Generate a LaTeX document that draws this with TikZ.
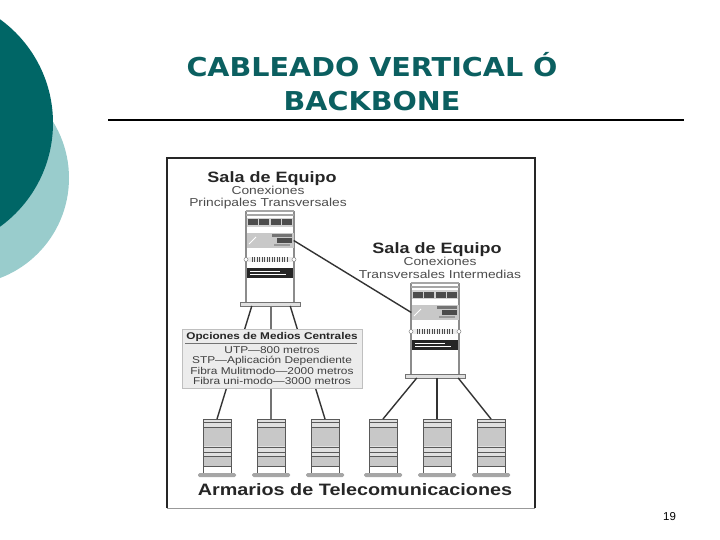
\documentclass[tikz,border=0pt]{standalone}
\usepackage{fontspec}
\setmainfont[FakeStretch=1.2]{Liberation Sans}
\newfontfamily\titlefont[FakeStretch=1.1]{DejaVu Sans}
\newfontfamily\pagefont{Liberation Sans}
\usetikzlibrary{positioning}
\definecolor{tealdark}{HTML}{006666}
\definecolor{teallight}{HTML}{99CCCC}
\definecolor{titleteal}{HTML}{0B5F60}
\definecolor{boxgray}{HTML}{ECECEC}
\definecolor{rackgray}{HTML}{8C8C8C}
\definecolor{shelfgray}{HTML}{C8C8C8}
\tikzstyle{salahead} = [font=\bfseries\fontsize{15}{15}\selectfont, text=black!85, inner sep=0pt]
\tikzstyle{salasub} = [font=\fontsize{11.5}{12}\selectfont, text=black!70, inner sep=0pt, text height=8pt, text depth=2pt, node distance=12.5pt]
\tikzstyle{medio} = [font=\fontsize{9.9}{10}\selectfont, text=black!75, inner sep=0pt, text height=7pt, text depth=2pt, node distance=10.3pt]
\tikzstyle{cable} = [line width=1.4pt, draw=black!80]
\tikzstyle{graycable} = [line width=1.6pt, draw=black!55]
\tikzset{
  eqrack/.pic={
    % posts and base
    \draw[rackgray, line width=2pt] (-24,0) -- (-24,91) (24,0) -- (24,91);
    \draw[black!35, line width=1.2pt] (-24,0) -- (24,0) (-24,4) -- (24,4);
    \node[draw=black!55, fill=black!12, minimum width=60pt, minimum height=3.5pt, inner sep=0pt] (-base) at (0,93) {};
    % patch panel
    \fill[black!18] (-23,7) rectangle (23,16);
    \foreach \i in {-17,-6,6,17}
      \fill[black!70] (\i-4.8,8.5) rectangle (\i+4.8,14.5);
    % switch
    \node[fill=shelfgray, minimum width=47pt, minimum height=15pt, inner sep=0pt] (-switch) at (0,29.5) {};
    \fill[black!55] (2,23) rectangle (22,26);
    \fill[black!70] (7,26.5) rectangle (22,32);
    \fill[black!40] (4,33) rectangle (20,35);
    \draw[white, line width=0.8pt] (-21,33) -- (-14,26);
    % panel
    \fill[black!8] (-22,46) rectangle (22,51);
    \foreach \i in {-18,-15.5,...,18}
      \draw[black!70, line width=0.7pt] (\i,46) -- (\i,50.5);
    \draw[black!50, fill=white, line width=0.5pt] (-24,48.5) circle (2) (24,48.5) circle (2);
    % black unit
    \fill[black!85] (-23,57) rectangle (23,67);
    \draw[white, line width=0.6pt] (-20,60) -- (10,60) (-20,63.5) -- (16,63.5);
  },
  armario/.pic={
    \fill[black!12] (-14,0) rectangle (14,8);
    \fill[shelfgray] (-14,8) rectangle (14,27);
    \fill[black!12] (-14,27) rectangle (14,37);
    \fill[shelfgray] (-14,37) rectangle (14,47);
    \draw[black!65, line width=1pt] (-14,0) -- (-14,55) (14,0) -- (14,55);
    \draw[black!65, line width=0.9pt] (-14,0) -- (14,0) (-14,3) -- (14,3) (-14,8) -- (14,8) (-14,28) -- (14,28) (-14,33) -- (14,33) (-14,37) -- (14,37) (-14,47) -- (14,47);
    \coordinate (-top) at (0,0);
    \fill[black!35, rounded corners=1.5pt] (-19,54) rectangle (19,58);
  }
}
\begin{document}
\begin{tikzpicture}[x=1pt,y=-1pt]
\useasboundingbox (0,0) rectangle (720,540);

% circles on the left
\clip (0,0) rectangle (720,540);
\fill[teallight] (-38,178) circle (107);
\fill[tealdark] (-75,123) circle (128);

% title
\node[font=\titlefont\bfseries\fontsize{26}{34}\selectfont, text=titleteal, align=center, inner sep=0pt] (titulo) at (372,82) {CABLEADO VERTICAL Ó\\BACKBONE};
\coordinate (ruleL) at (108,120);
\coordinate (ruleR) at (684,120);
\draw[line width=1.6pt] (ruleL) -- (ruleR);

% frame of the figure
\draw[line width=1.6pt, black!85] (167,508) -- (167,158) -- (535,158) -- (535,508);
\draw[black!40, line width=0.8pt] (167,508) -- (535,508);

% racks
\pic (salaA) at (270,211) {eqrack};
\pic (salaB) at (435,283) {eqrack};

% cabinets
\pic (arm1) at (217,419) {armario};
\pic (arm2) at (271,419) {armario};
\pic (arm3) at (325,419) {armario};
\pic (arm4) at (383,419) {armario};
\pic (arm5) at (437,419) {armario};
\pic (arm6) at (491,419) {armario};

% cables
\draw[cable] (salaA-switch.east) -- (salaB-switch.west);
\draw[cable] (salaA-base.south west) ++(12,0) coordinate (legA1) (legA1) -- (arm1-top);
\draw[graycable] (salaA-base.south) ++(1,0) coordinate (legA2) (legA2) -- (arm2-top);
\draw[cable] (salaA-base.south east) ++(-10,0) coordinate (legA3) (legA3) -- (arm3-top);
\draw[cable] (salaB-base.south west) ++(12,0) coordinate (legB1) (legB1) -- (arm4-top);
\draw[cable] (salaB-base.south) ++(2,0) coordinate (legB2) (legB2) -- (arm5-top);
\draw[cable] (salaB-base.south east) ++(-7,0) coordinate (legB3) (legB3) -- (arm6-top);

% labels of the rooms
\node[salahead] (salaAt) at (272,179) {Sala de Equipo};
\node[salasub, below of=salaAt, xshift=-4pt] (salaA1) {Conexiones};
\node[salasub, below of=salaA1] (salaA2) {Principales Transversales};

\node[salahead] (salaBt) at (437,250) {Sala de Equipo};
\node[salasub, below of=salaBt, xshift=3pt] (salaB1) {Conexiones};
\node[salasub, below of=salaB1] (salaB2) {Transversales Intermedias};

% box of the media
\node[fill=boxgray, draw=black!25, minimum width=180pt, minimum height=59pt, inner sep=0pt] (opciones) at (272,358.5) {};
\node[font=\bfseries\fontsize{9.8}{10}\selectfont, text=black!85, inner sep=0pt] (opc0) at (272,337) {Opciones de Medios Centrales};
\coordinate (opcL) at (185,343.5);
\coordinate (opcR) at (357,343.5);
\draw[black!55, line width=1pt] (opcL) -- (opcR);
\node[medio] (opc1) at (272,351) {UTP---800 metros};
\node[medio, below of=opc1] (opc2) {STP---Aplicación Dependiente};
\node[medio, below of=opc2] (opc3) {Fibra Mulitmodo---2000 metros};
\node[medio, below of=opc3] (opc4) {Fibra uni-modo---3000 metros};

% bottom label and page number
\node[font=\bfseries\fontsize{16.5}{15}\selectfont, text=black!85, inner sep=0pt] (armarios) at (355,490) {Armarios de Telecomunicaciones};
\node[font=\pagefont\fontsize{11.5}{12}\selectfont, text=black, inner sep=0pt] (pagina) at (669.5,517) {19};

\end{tikzpicture}
\end{document}
